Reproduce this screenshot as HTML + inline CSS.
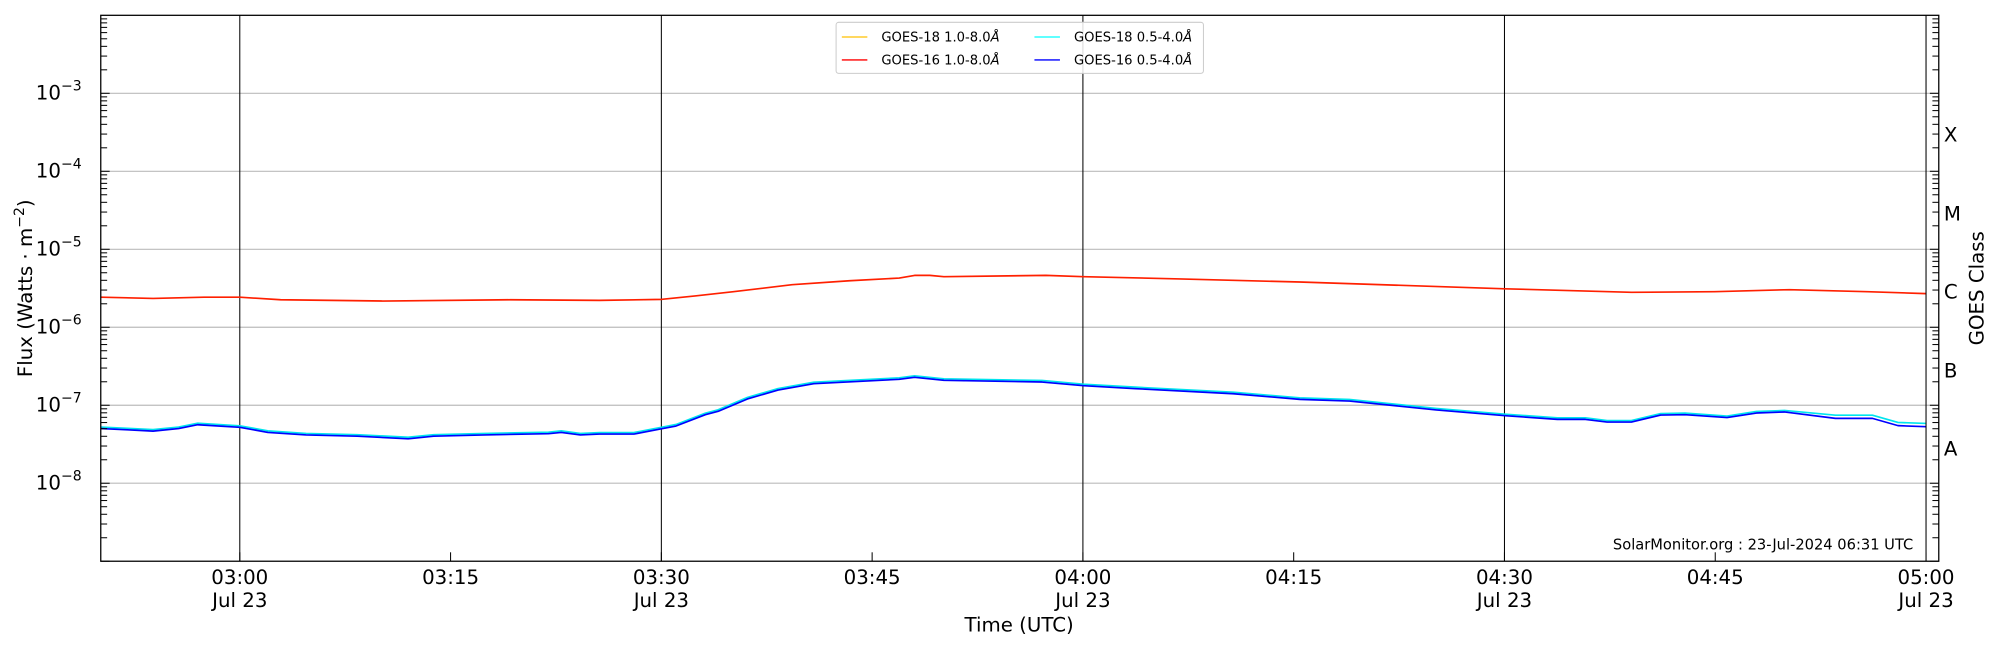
<!DOCTYPE html>
<html><head><meta charset="utf-8"><style>
html,body{margin:0;padding:0;background:#fff;}
svg{display:block;}
text{font-family:"DejaVu Sans","Liberation Sans",sans-serif;fill:#000;}
</style></head><body>
<svg id="s" width="2000" height="650" viewBox="0 0 1568 509.6" preserveAspectRatio="none" xmlns="http://www.w3.org/2000/svg">
<rect width="1568" height="510" fill="#fff"/>
<g id="grid"></g>
<g fill="none" stroke-width="1.3" stroke-linejoin="round">
<polyline id="cyan" stroke="#00e5ee"/>
<polyline id="blue" stroke="#0000ff"/>
<polyline id="red" stroke="#ff2000"/>
</g>
<g id="ticks" stroke="#000" stroke-width="0.8"></g>
<rect x="79" y="12" width="1441" height="428" fill="none" stroke="#000" stroke-width="1"/>
<line x1="1510" y1="12" x2="1510" y2="440" stroke="#000" stroke-width="0.8"/>
<g id="labels" font-size="15.5"></g>
<g font-size="15.5">
<text x="1524" y="111">X</text><text x="1524" y="173">M</text><text x="1524" y="234">C</text><text x="1524" y="296">B</text><text x="1524" y="357">A</text>
<text transform="translate(1555,226) rotate(-90)" text-anchor="middle">GOES Class</text>
<text transform="translate(25,226) rotate(-90)" text-anchor="middle">Flux (Watts · m<tspan font-size="11" dy="-6">−2</tspan><tspan dy="6">)</tspan></text>
<text x="799" y="495" text-anchor="middle">Time (UTC)</text>
</g>
<text x="1500" y="431" font-size="11.5" text-anchor="end">SolarMonitor.org : 23-Jul-2024 06:31 UTC</text>
<g>
<rect x="655.5" y="17.5" width="288" height="40" rx="2" fill="#fff" fill-opacity="0.85" stroke="#ccc" stroke-width="0.8"/>
<line x1="660" y1="29" x2="680" y2="29" stroke="#ffc000" stroke-width="1"/>
<line x1="660" y1="47" x2="680" y2="47" stroke="#ff0000" stroke-width="1"/>
<line x1="811" y1="29" x2="831" y2="29" stroke="#00ffff" stroke-width="1"/>
<line x1="811" y1="47" x2="831" y2="47" stroke="#0000ff" stroke-width="1"/>
<g font-size="10.3">
<text x="691" y="32.5">GOES-18 1.0-8.0<tspan font-style="italic">Å</tspan></text>
<text x="691" y="50.5">GOES-16 1.0-8.0<tspan font-style="italic">Å</tspan></text>
<text x="842" y="32.5">GOES-18 0.5-4.0<tspan font-style="italic">Å</tspan></text>
<text x="842" y="50.5">GOES-16 0.5-4.0<tspan font-style="italic">Å</tspan></text>
</g></g>
</svg>
<script>
(function(){
const NS="http://www.w3.org/2000/svg";
function el(p,t,a,txt){const e=document.createElementNS(NS,t);for(const k in a)e.setAttribute(k,a[k]);if(txt)e.innerHTML=txt;p.appendChild(e);return e;}
const grid=document.getElementById('grid'),ticks=document.getElementById('ticks'),labels=document.getElementById('labels');
const yTop=12,yBot=440,dec=(yBot-yTop)/7;
function yOf(l){return yTop+(-2-l)*dec;}
for(let e=-3;e>=-8;e--){const y=yOf(e);
 el(grid,'line',{x1:79,x2:1520,y1:y,y2:y,stroke:'#bbb','stroke-width':0.9});
 el(labels,'text',{x:64,y:y+5,'text-anchor':'end'},'10<tspan font-size="11" dy="-7">−'+(-e)+'</tspan>');}
for(let e=-9;e<-2;e++){for(let k=1;k<10;k++){const y=yOf(e+Math.log10(k));const L=k==1?7:5;
 el(ticks,'line',{x1:79,x2:79+L,y1:y,y2:y});el(ticks,'line',{x1:1520,x2:1520-L,y1:y,y2:y});}}
const x0=188,step=(1510-188)/8;
const tl=['03:00','03:15','03:30','03:45','04:00','04:15','04:30','04:45','05:00'];
for(let i=0;i<9;i++){const x=x0+i*step;
 if(i%2==0)el(grid,'line',{x1:x,x2:x,y1:12,y2:440,stroke:'#000','stroke-width':0.8});
 el(ticks,'line',{x1:x,x2:x,y1:440,y2:433});
 el(labels,'text',{x:x,y:458,'text-anchor':'middle'},tl[i]);
 if(i%2==0)el(labels,'text',{x:x,y:476,'text-anchor':'middle'},'Jul 23');}
const red=[[79,233],[120,234],[160,233],[188,233],[220,235],[300,236],[400,235],[470,235.5],[519,234.7],[545,232],[575,228.7],[621,223.2],[666,220.1],[705,218],[717,215.9],[729,215.9],[740,216.9],[820,215.9],[849.5,216.9],[925,218.7],[1019,221.1],[1180,226.4],[1279,229.2],[1344,228.7],[1403,227.1],[1464,228.7],[1510,230.2]];
const blue=[[79,336],[100,337],[120,338],[140,336],[155,333],[188,335],[210,339],[240,341],[280,342],[320,344],[340,342],[380,341],[430,340],[440,339],[455,341],[470,340.3],[497,340.3],[519,336.1],[530,334],[553,325.1],[563,322.5],[586,312.8],[610,305.8],[638,300.8],[705,297.4],[717,295.8],[740,298.2],[817,299.5],[849.5,302.4],[890,304.7],[967,308.7],[1019,313.1],[1058,314.4],[1126,321.4],[1180,325.9],[1221,328.8],[1243,328.8],[1260,330.9],[1279,330.9],[1302,325.4],[1321,325.1],[1354,327.4],[1377,323.8],[1399,323],[1439,328],[1468,328],[1488,333.7],[1510,334.5]];
const s=a=>a.map(p=>p.join(',')).join(' ');
document.getElementById('red').setAttribute('points',s(red));
document.getElementById('blue').setAttribute('points',s(blue));
document.getElementById('cyan').setAttribute('points',s(blue.map(p=>[p[0],p[1]-(p[0]>1420?2.5:1.2)])));
})();
</script>
</body></html>
